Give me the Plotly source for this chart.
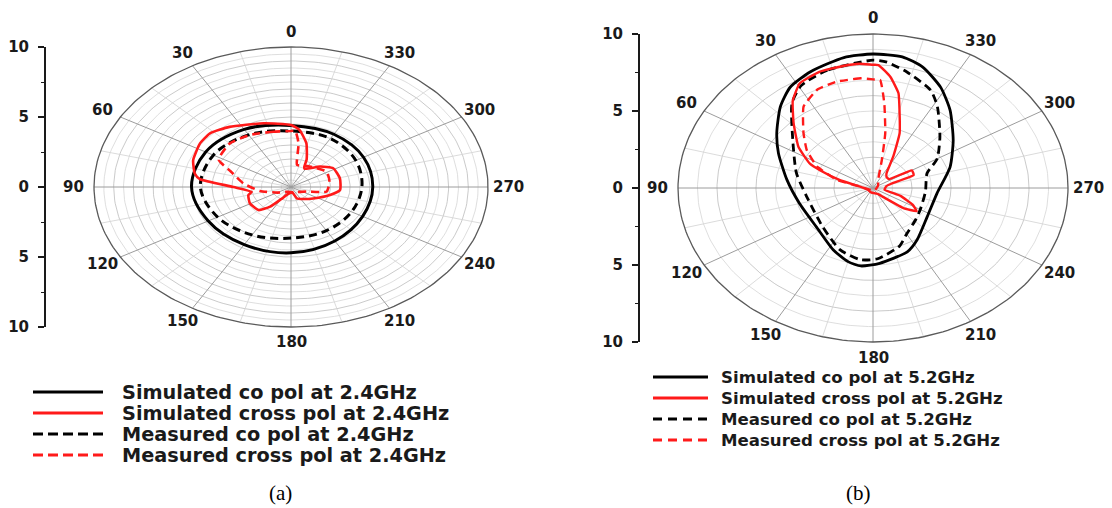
import numpy as np
import plotly.graph_objects as go

W, H = 1112, 508
OFF = 8                      # page offset of the figure div inside the browser window
FW, FH = W - OFF, H - OFF    # figure size so that it fills the window exactly

# ---------------- data (angle in degrees, counter-clockwise from top; radial value) ----------------
# Panel (a) 2.4 GHz
a_sim_co_theta = [0, 30, 60, 90, 120, 150, 180, 210, 240, 270, 300, 330]
a_sim_co_r = [4.4, 4.75, 5.0, 5.05, 4.85, 4.75, 4.7, 4.45, 4.2, 4.15, 4.25, 4.35]

a_meas_co_theta = [0, 30, 60, 90, 120, 150, 180, 210, 240, 270, 300, 330]
a_meas_co_r = [4.0, 4.3, 4.55, 4.6, 4.3, 3.95, 3.65, 3.6, 3.55, 3.6, 3.8, 4.0]

a_sim_cross_theta = [0, 17, 36, 47, 56, 69, 79, 83, 90, 100, 105, 119, 135, 143, 150, 165, 190,
                     200, 215, 234, 254, 265, 284, 302, 315, 332, 335, 338, 346, 354]
a_sim_cross_r = [4.43, 4.76, 5.31, 5.62, 5.57, 5.32, 4.97, 4.66, 2.92, 2.03, 2.24, 2.39, 2.33, 1.76,
                 1.0, 0.5, 0.4, 0.86, 1.05, 1.39, 2.06, 2.5, 2.56, 2.53, 2.07, 1.47, 1.6, 2.12, 3.22, 4.1]

a_meas_cross_theta = [0, 13, 29, 45, 62, 70, 84, 100, 120, 150, 200, 248, 260, 281, 301, 321,
                      340, 349, 353, 357]
a_meas_cross_r = [4.0, 4.05, 4.26, 4.4, 4.16, 3.25, 2.43, 1.6, 0.8, 0.4, 0.4, 0.86, 1.84, 1.99,
                  2.12, 1.81, 1.65, 1.6, 3.14, 4.03]

# Panel (b) 5.2 GHz
b_sim_co_theta = [0, 10, 23, 33, 42, 54, 65, 83, 105, 131, 153, 165, 173, 184, 203, 214, 236,
                  264, 289, 307, 322, 332, 342, 350]
b_sim_co_r = [8.7, 8.6, 8.2, 7.8, 7.1, 6.1, 5.35, 4.45, 3.9, 3.85, 4.5, 4.95, 5.1, 4.9, 4.5,
              4.05, 3.35, 3.3, 4.18, 5.15, 6.42, 7.4, 8.26, 8.65]

b_meas_co_theta = [0, 17, 29, 37, 53, 76, 99, 134, 157, 172, 183, 200, 210, 227, 240, 265, 289,
                   300, 314, 328, 335, 347, 355]
b_meas_co_r = [8.3, 8.0, 7.6, 6.9, 5.15, 4.05, 3.45, 3.6, 4.35, 4.7, 4.6, 4.0, 3.45, 3.0, 2.8,
               2.7, 2.93, 3.8, 4.77, 6.23, 7.0, 7.73, 8.2]

b_sim_cross_theta = [0, 5, 11, 20, 29, 36, 44, 55, 64, 67, 73, 82, 110, 160, 215, 222, 230, 236,
                     242, 250, 260, 280, 287, 292, 300, 305, 316, 324, 333, 339, 345, 348, 353, 358]
b_sim_cross_r = [8.0, 8.1, 8.07, 8.03, 7.76, 7.0, 5.86, 4.67, 3.6, 2.96, 1.77, 0.67, 0.3, 0.3,
                 0.5, 0.8, 2.0, 2.7, 2.3, 1.5, 0.6, 0.7, 1.0, 2.25, 2.3, 1.0, 1.0, 1.18, 2.28,
                 3.81, 5.25, 6.29, 7.28, 7.99]

b_meas_cross_theta = [0, 5, 15, 24, 34, 45, 54, 64, 74, 82, 120, 200, 300, 333, 346, 350, 354, 357]
b_meas_cross_r = [7.05, 7.15, 7.15, 7.0, 6.37, 5.04, 4.2, 3.2, 1.93, 0.67, 0.2, 0.2, 0.3, 0.58,
                  1.87, 3.62, 5.54, 7.02]

angle_labels = [0, 30, 60, 90, 120, 150, 180, 210, 240, 270, 300, 330]
radial_tickvals = [-10, -5, 0, 5, 10]
radial_ticktext = ["10", "5", "0", "5", "10"]

legend_a = ["Simulated co pol at 2.4GHz", "Simulated cross pol at 2.4GHz",
            "Measured co pol at 2.4GHz", "Measured cross pol at 2.4GHz"]
legend_b = ["Simulated co pol at 5.2GHz", "Simulated cross pol at 5.2GHz",
            "Measured co pol at 5.2GHz", "Measured cross pol at 5.2GHz"]

# ---------------- helpers ----------------
def to_xy(theta, r, close=True):
    t = np.radians(np.asarray(theta, float))
    r = np.asarray(r, float)
    x = -r * np.sin(t)
    y = r * np.cos(t)
    if close:
        x = np.append(x, x[0])
        y = np.append(y, y[0])
    return x, y

def px(x):   # window pixel -> paper x
    return (x - OFF) / FW

def py(y):   # window pixel -> paper y
    return 1 - (y - OFF) / FH

fig = go.Figure()
E = 11.3  # axis half-range (units), leaves room for angle labels

panels = {
    "a": dict(cx=291, cy=187, sx=19.7, sy=14.0, axpos=45, ringstep=0.5, xa="x", ya="y", yv="y3"),
    "b": dict(cx=873, cy=188, sx=19.5, sy=15.4, axpos=639, ringstep=1.0, xa="x2", ya="y2", yv="y4"),
}

SPOKE30 = "#9c9c9c"
SPOKE15 = "#d2d2d2"
TXT = "#1a1a1a"
tt = np.linspace(0, 360, 241)

layout_axes = {}
annotations = []
for key, p in panels.items():
    xa, ya, yv = p["xa"], p["ya"], p["yv"]
    # rings: alternating darker / lighter
    rings = np.arange(p["ringstep"], 10.0 - 1e-6, p["ringstep"])
    for sel, col in [(1, "#d6d6d6"), (0, "#bdbdbd")]:
        rx, ry = [], []
        for i, rr in enumerate(rings):
            if (i % 2) != (1 - sel):
                continue
            x, y = to_xy(tt, np.full_like(tt, rr), close=False)
            rx += list(x) + [None]
            ry += list(y) + [None]
        fig.add_trace(go.Scatter(x=rx, y=ry, mode="lines", line=dict(color=col, width=0.8),
                                 xaxis=xa, yaxis=ya, hoverinfo="skip", showlegend=False))
    # spokes
    for step, col, wid in [(15, SPOKE15, 0.8), (30, SPOKE30, 1.0)]:
        sx_, sy_ = [], []
        for ang in range(0, 360, step):
            if step == 15 and ang % 30 == 0:
                continue
            x, y = to_xy([ang], [10], close=False)
            sx_ += [0, x[0], None]
            sy_ += [0, y[0], None]
        fig.add_trace(go.Scatter(x=sx_, y=sy_, mode="lines", line=dict(color=col, width=wid),
                                 xaxis=xa, yaxis=ya, hoverinfo="skip", showlegend=False))
    # outer ring
    x, y = to_xy(tt, np.full_like(tt, 10.0), close=False)
    fig.add_trace(go.Scatter(x=x, y=y, mode="lines", line=dict(color="#5a5a5a", width=1.3),
                             xaxis=xa, yaxis=ya, hoverinfo="skip", showlegend=False))
    # dummy trace for visible radial axis
    fig.add_trace(go.Scatter(x=[0], y=[0], mode="markers", marker=dict(opacity=0),
                             xaxis=xa, yaxis=yv, hoverinfo="skip", showlegend=False))

    sfx = "" if key == "a" else "2"
    vsfx = "3" if key == "a" else "4"
    cx, cy, sx, sy = p["cx"], p["cy"], p["sx"], p["sy"]
    layout_axes["xaxis" + sfx] = dict(domain=[px(cx - E * sx), px(cx + E * sx)], range=[-E, E],
                                      visible=False, fixedrange=True, automargin=False)
    layout_axes["yaxis" + sfx] = dict(domain=[py(cy + E * sy), py(cy - E * sy)], range=[-E, E],
                                      visible=False, fixedrange=True, anchor=xa, automargin=False)
    layout_axes["yaxis" + vsfx] = dict(domain=[py(cy + 10 * sy), py(cy - 10 * sy)],
                                       range=[-10, 10], anchor="free", position=px(p["axpos"]),
                                       automargin=False,
                                       showline=True, linecolor=TXT, linewidth=2,
                                       ticks="outside", ticklen=6, tickwidth=1.6, tickcolor=TXT,
                                       tickvals=radial_tickvals, ticktext=radial_ticktext,
                                       ticklabelstandoff=6,
                                       tickfont=dict(family="DejaVu Sans", size=15, color=TXT, weight="bold"),
                                       minor=dict(tickvals=[-7.5, -2.5, 2.5, 7.5], ticks="outside", ticklen=3,
                                                  tickwidth=1.4, tickcolor=TXT),
                                       showgrid=False, zeroline=False, fixedrange=True)
    # angle labels
    for ang in angle_labels:
        x, y = to_xy([ang], [11.05], close=False)
        annotations.append(dict(x=x[0], y=y[0], xref=xa, yref=ya, text=str(ang), showarrow=False,
                                xanchor="center", yanchor="middle",
                                font=dict(family="DejaVu Sans", size=15, color=TXT, weight="bold")))

# ---------------- curves ----------------
series = [
    ("a", a_sim_co_theta, a_sim_co_r, "black", "solid", 3.0, 1.0),
    ("a", a_meas_co_theta, a_meas_co_r, "black", "8px,5px", 3.0, 1.0),
    ("a", a_sim_cross_theta, a_sim_cross_r, "#ff1a1a", "solid", 2.6, 0.5),
    ("a", a_meas_cross_theta, a_meas_cross_r, "#ff1a1a", "8px,5px", 2.6, 0.5),
    ("b", b_sim_co_theta, b_sim_co_r, "black", "solid", 2.8, 0.6),
    ("b", b_meas_co_theta, b_meas_co_r, "black", "8px,5px", 2.8, 0.6),
    ("b", b_sim_cross_theta, b_sim_cross_r, "#ff1a1a", "solid", 2.4, 0.4),
    ("b", b_meas_cross_theta, b_meas_cross_r, "#ff1a1a", "8px,5px", 2.4, 0.4),
]
for key, th, r, col, dash, wid, smooth in series:
    p = panels[key]
    x, y = to_xy(th, r)
    fig.add_trace(go.Scatter(x=x, y=y, mode="lines",
                             line=dict(color=col, dash=dash, width=wid, shape="spline", smoothing=smooth),
                             xaxis=p["xa"], yaxis=p["ya"], hoverinfo="skip", showlegend=False))

# ---------------- legends (drawn manually) ----------------
shapes = []
leg_styles = [("black", "solid"), ("#ff1a1a", "solid"), ("black", "dash"), ("#ff1a1a", "dash")]

def add_legend(labels, x0, x1, xt, rows, fsize, dash_pat):
    for lab, (col, dash), yy in zip(labels, leg_styles, rows):
        shapes.append(dict(type="line", xref="paper", yref="paper", x0=px(x0), x1=px(x1),
                           y0=py(yy), y1=py(yy),
                           line=dict(color=col, width=3, dash=dash_pat if dash == "dash" else "solid")))
        annotations.append(dict(x=px(xt), y=py(yy), xref="paper", yref="paper", text=lab,
                                showarrow=False, xanchor="left", yanchor="middle", borderpad=0,
                                font=dict(family="DejaVu Sans", size=fsize, color=TXT, weight="bold")))

add_legend(legend_a, 33, 103, 121, [392, 413, 434, 455], 19.3, "10px,5px")
add_legend(legend_b, 653, 708, 720, [377, 398, 419, 440], 16.6, "9px,6px")

annotations.append(dict(x=px(280), y=py(493), xref="paper", yref="paper", text="(a)", showarrow=False,
                        xanchor="center", yanchor="middle",
                        font=dict(family="Liberation Serif", size=21, color="black")))
annotations.append(dict(x=px(858), y=py(493), xref="paper", yref="paper", text="(b)", showarrow=False,
                        xanchor="center", yanchor="middle",
                        font=dict(family="Liberation Serif", size=21, color="black")))

fig.update_layout(template="none", width=FW, height=FH, margin=dict(l=0, r=0, t=0, b=0, pad=0),
                  paper_bgcolor="white", plot_bgcolor="rgba(0,0,0,0)",
                  showlegend=False, annotations=annotations, shapes=shapes, **layout_axes)

fig.write_html("out.html")
